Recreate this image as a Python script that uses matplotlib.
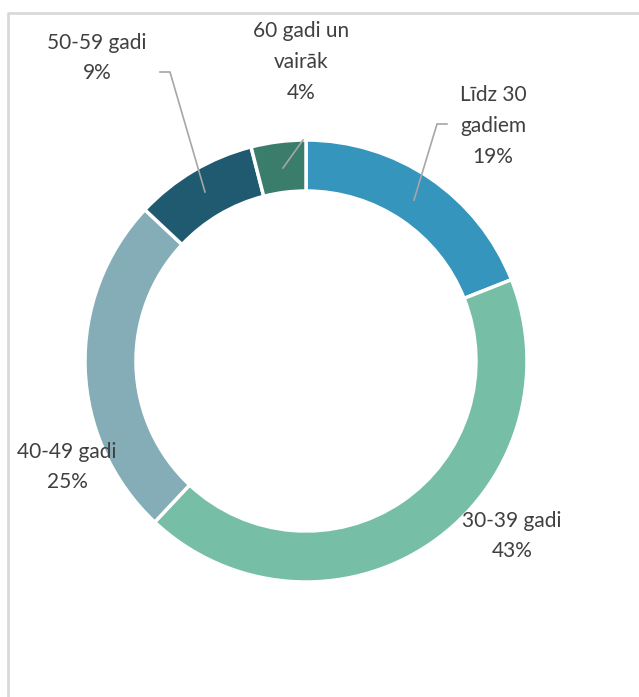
import matplotlib
matplotlib.use("Agg")
import matplotlib.pyplot as plt

categories = ["Līdz 30\ngadiem", "30-39 gadi", "40-49 gadi", "50-59 gadi", "60 gadi un\nvairāk"]
values = [19, 43, 25, 9, 4]
colors = ["#3595BC", "#76BEA6", "#84ADB7", "#1F5A70", "#3A7D6A"]

W, H = 639, 697
fig = plt.figure(figsize=(W / 100, H / 100), dpi=100)
ax = fig.add_axes([0, 0, 1, 1])
ax.set_xlim(0, W)
ax.set_ylim(0, H)
ax.set_aspect("equal")
ax.axis("off")

def Y(py):
    return H - py

cx, cy, R = 306, 361, 221
ax.pie(values, colors=colors, startangle=90, counterclock=False,
       center=(cx, Y(cy)), radius=R,
       wedgeprops=dict(width=51, edgecolor="white", linewidth=2.5))
ax.set_xlim(0, W)
ax.set_ylim(0, H)

# border
ax.plot([7.5, 7.5, W], [0, Y(12.5), Y(12.5)], color="#D9D9D9", lw=2, clip_on=False)

# labels
label_pos = [(493, 126), (512, 536), (67, 467), (97, 58), (301, 62)]
tc = "#404040"
for cat, v, (px, py) in zip(categories, values, label_pos):
    ax.text(px, Y(py), f"{cat}\n{v}%", ha="center", va="center",
            fontsize=15, family="Lato", color=tc, linespacing=1.68)

# leader lines
lc = "#A6A6A6"
ax.plot([447, 437, 414], [Y(124), Y(124), Y(200)], color=lc, lw=1.2)
ax.plot([160, 170, 205], [Y(72), Y(72), Y(192)], color=lc, lw=1.2)
ax.plot([303, 283], [Y(140), Y(168)], color=lc, lw=1.2)

fig.savefig("out.png", dpi=100, facecolor="white")
